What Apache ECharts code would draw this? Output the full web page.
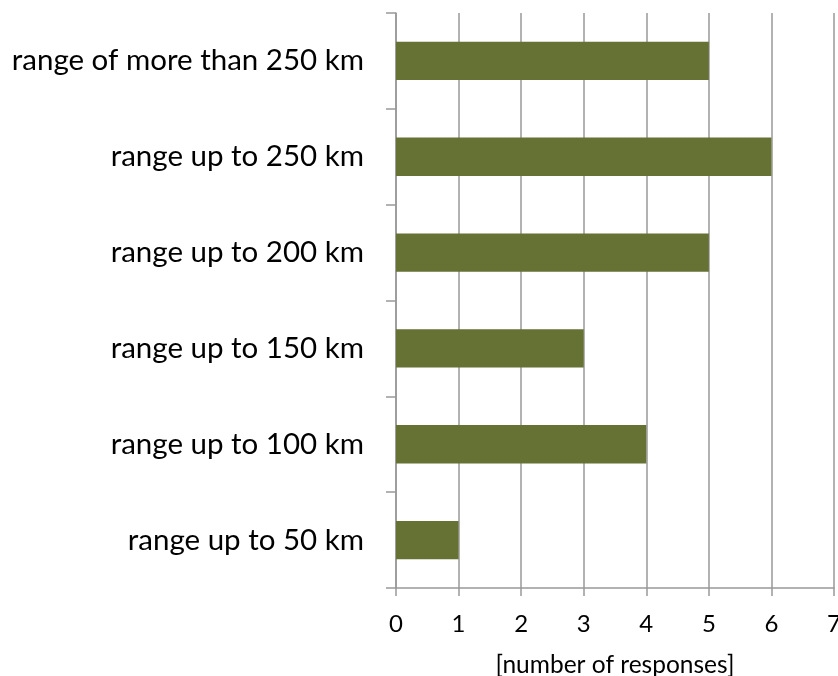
<!DOCTYPE html>
<html>
<head>
<meta charset="utf-8">
<script src="https://cdn.jsdelivr.net/npm/echarts@6/dist/echarts.min.js"></script>
<style>
  html, body { margin: 0; padding: 0; background: #fff; overflow: hidden; }
  #chart { width: 838px; height: 676px; }
</style>
</head>
<body>
<div id="chart"></div>
<script>
// Range categories, bottom to top as on the axis
const categories = [
  'range up to 50 km',
  'range up to 100 km',
  'range up to 150 km',
  'range up to 200 km',
  'range up to 250 km',
  'range of more than 250 km'
];
const responses = [1, 4, 3, 5, 6, 5];
const xTicks = [0, 1, 2, 3, 4, 5, 6, 7];
const xAxisTitle = '[number of responses]';

const font = 'Lato, "Open Sans", sans-serif';
const chart = echarts.init(document.getElementById('chart'), null, { renderer: 'canvas' });

chart.setOption({
  animation: false,
  grid: {
    left: 396, right: 4, top: 13, bottom: 88,
    containLabel: false,
    // keep the plot fixed; the last tick label may run past the edge
    outerBoundsMode: 'none'
  },
  xAxis: {
    type: 'value',
    min: xTicks[0],
    max: xTicks[xTicks.length - 1],
    interval: 1,
    name: xAxisTitle,
    nameLocation: 'middle',
    nameGap: 65,
    nameTextStyle: { fontFamily: font, fontSize: 24.5, color: '#000' },
    axisLine: { show: true, lineStyle: { color: '#999', width: 1.5 } },
    axisTick: { show: true, length: 8, lineStyle: { color: '#999', width: 1.5 } },
    axisLabel: { fontFamily: font, fontSize: 24, color: '#000', margin: 24 },
    splitLine: { show: true, lineStyle: { color: '#999', width: 1.5 } }
  },
  yAxis: {
    type: 'category',
    data: categories,
    axisLine: { show: true, lineStyle: { color: '#999', width: 1.5 } },
    axisTick: { show: true, length: 10, alignWithLabel: false, lineStyle: { color: '#999', width: 1.5 } },
    axisLabel: { fontFamily: font, fontSize: 29.5, color: '#000', margin: 32 },
    splitLine: { show: false }
  },
  series: [{
    type: 'bar',
    data: responses,
    barCategoryGap: '60%',
    itemStyle: { color: '#667134' }
  }]
});
</script>
</body>
</html>
